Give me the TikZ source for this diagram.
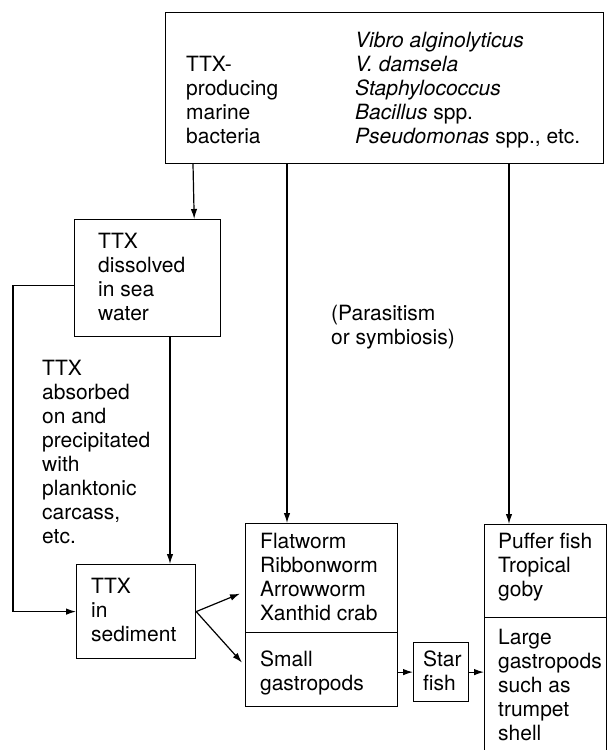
\documentclass[tikz,border=0pt]{standalone}
\usepackage{fontspec}
\setmainfont{TeX Gyre Heros}
\usetikzlibrary{
	arrows.meta
}

\begin{document}
\begin{tikzpicture}[x=1pt,y=-1pt,
		box/.style={draw,line width=1.2pt,anchor=north west,inner sep=0pt},
		txt/.style={anchor=base west,align=left,inner sep=0pt,font=\fontsize{21}{24}\selectfont},
		flow/.style={-{Latex[length=10pt,width=6.5pt]},line width=1.2pt}
	]
	\useasboundingbox (0,0) rectangle (607,750);

	% boxes
	\draw
		node[box,minimum width=438pt,minimum height=151pt] (bact)  at (165,12)  {}
		node[box,minimum width=146pt,minimum height=117pt] (dis)   at (74,219)  {}
		node[box,minimum width=119pt,minimum height=94pt]  (sed)   at (76,564)  {}

		node[box,minimum width=152pt,minimum height=109pt] (flatA) at (245,523) {}
		node[box,minimum width=152pt,minimum height=74pt]  (flatB) at (245,632) {}
		node[box,minimum width=55pt,minimum height=59pt]   (star)  at (413,642) {}
		node[box,minimum width=122pt,minimum height=93pt]  (puffA) at (484,524) {}
		node[box,minimum width=122pt,minimum height=200pt] (puffB) at (484,617) {}
	;

	% texts (placed by the baseline of their last line)
	\node[txt] (bactname) at (186,143) {TTX-\\producing\\marine\\bacteria};
	\node[txt] (species)  at (355,143) {\textit{Vibro alginolyticus}\\\textit{V. damsela}\\\textit{Staphylococcus}\\\textit{Bacillus} spp.\\\textit{Pseudomonas} spp., etc.};
	\node[txt] (distxt)   at (98,320)  {TTX\\dissolved\\in sea\\water};
	\node[txt] (abstxt)   at (42,543)  {TTX\\absorbed\\on and\\precipitated\\with\\planktonic\\carcass,\\etc.};
	\node[txt] (sedtxt)   at (91,641)  {TTX\\in\\sediment};
	\node[txt] (partxt)   at (331,344) {(Parasitism\\or symbiosis)};
	\node[txt] (flatAtxt) at (260,620) {Flatworm\\Ribbonworm\\Arrowworm\\Xanthid crab};
	\node[txt] (flatBtxt) at (260,690) {Small\\gastropods};
	\node[txt] (startxt)  at (423,690) {Star\\fish};
	\node[txt] (puffAtxt) at (498,596) {Puffer fish\\Tropical\\goby};
	\node[txt] (puffBtxt) at (498,740) {Large\\gastropods\\such as\\trumpet\\shell};

	% arrows
	\draw
		([xshift=28pt]bact.south west)  edge[flow] ([xshift=-27pt]dis.north east)
		([xshift=122pt]bact.south west) edge[flow] ([xshift=42pt]flatA.north west)
		([xshift=344pt]bact.south west) edge[flow] ([xshift=25pt]puffA.north west)
		([xshift=96pt]dis.south west)   edge[flow] ([xshift=94pt]sed.north west)

		(sed.east) edge[flow] ([xshift=-5pt,yshift=-15.5pt]flatA.west)
		(sed.east) edge[flow] ([xshift=-3pt,yshift=7pt]flatB.west)

		(flatB.east |- star.west) edge[flow] (star.west)
		(star.east) edge[flow] (star.east -| puffB.west)
	;
	\draw[flow] ([yshift=-7pt]dis.west) -- ++(-61,0) |- (sed.west);
\end{tikzpicture}
\end{document}
